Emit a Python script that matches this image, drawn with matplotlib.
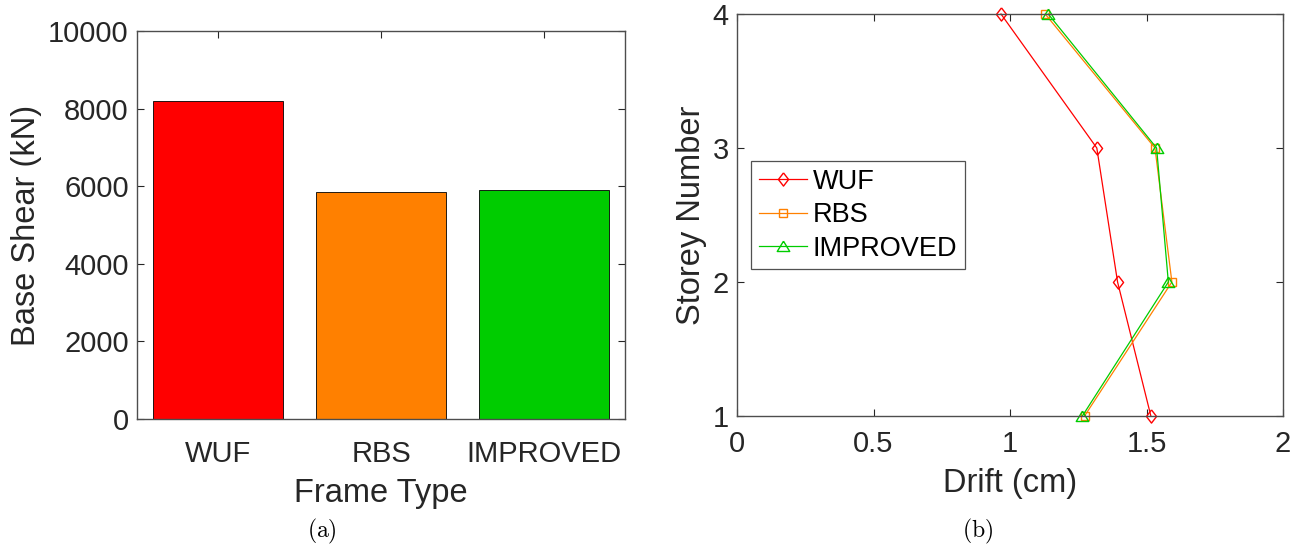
import matplotlib
matplotlib.use("Agg")
import matplotlib.pyplot as plt

plt.rcParams['font.family'] = ['Liberation Sans', 'DejaVu Sans']
plt.rcParams['mathtext.fontset'] = 'cm'

# Base shear per frame type
frame_types = ['WUF', 'RBS', 'IMPROVED']
base_shear = [8200, 5860, 5900]
bar_colors = ['#FF0000', '#FF8000', '#00CC00']

# Storey drift profiles
storeys = [1, 2, 3, 4]
drift_wuf = [1.516, 1.394, 1.318, 0.967]
drift_rbs = [1.273, 1.593, 1.531, 1.129]
drift_improved = [1.265, 1.580, 1.537, 1.140]

y_ticks_shear = [0, 2000, 4000, 6000, 8000, 10000]
x_ticks_drift = [0, 0.5, 1, 1.5, 2]
x_tick_labels_drift = ['0', '0.5', '1', '1.5', '2']

W, H = 1302, 551
fig = plt.figure(figsize=(W / 100, H / 100), dpi=100)

def box(l, t, r, b):
    return [l / W, 1 - b / H, (r - l) / W, (b - t) / H]

axis_col = '#262626'
tick_fs = 21
label_fs = 23.5

def style(ax):
    for s in ax.spines.values():
        s.set_color('#4d4d4d')
        s.set_linewidth(1.0)
    ax.tick_params(direction='in', length=5, width=0.8, color=axis_col,
                   labelsize=tick_fs, labelcolor=axis_col,
                   top=True, right=True, pad=6)

# (a) base shear bars
ax1 = fig.add_axes(box(137, 31, 625, 419))
pos = list(range(1, len(frame_types) + 1))
ax1.bar(pos, base_shear, width=0.8, color=bar_colors,
        edgecolor='black', linewidth=0.6, zorder=2)
ax1.set_xlim(0.5, 3.5)
ax1.set_ylim(0, 10000)
ax1.set_xticks(pos)
ax1.set_xticklabels(frame_types)
ax1.set_yticks(y_ticks_shear)
style(ax1)
ax1.tick_params(axis='x', pad=15)
ax1.set_xlabel('Frame Type', fontsize=label_fs, color=axis_col, labelpad=7)
ax1.set_ylabel('Base Shear (kN)', fontsize=label_fs, color=axis_col, labelpad=4)

# (b) drift profiles
ax2 = fig.add_axes(box(737, 14, 1283, 416))
diamond = [(0, 1), (0.77, 0), (0, -1), (-0.77, 0), (0, 1)]
triangle = [(0, 0.85), (1, -0.8), (-1, -0.8), (0, 0.85)]
ax2.plot(drift_wuf, storeys, color='#FF0000', lw=0.9, marker=diamond,
         ms=9.5, mfc='none', mec='#FF0000', mew=1.0, label='WUF')
ax2.plot(drift_rbs, storeys, color='#FF8000', lw=0.9, marker='s',
         ms=5.5, mfc='none', mec='#FF8000', mew=1.0, label='RBS')
ax2.plot(drift_improved, storeys, color='#00CC00', lw=0.9, marker=triangle,
         ms=9, mfc='none', mec='#00CC00', mew=1.0, label='IMPROVED')
ax2.set_xlim(0, 2)
ax2.set_ylim(1, 4)
ax2.set_xticks(x_ticks_drift)
ax2.set_xticklabels(x_tick_labels_drift)
ax2.set_yticks(storeys)
style(ax2)
for ln in ax2.lines:
    ln.set_clip_on(False)
ax2.tick_params(axis='x', pad=10)
ax2.set_xlabel('Drift (cm)', fontsize=label_fs, color=axis_col, labelpad=7)
ax2.set_ylabel('Storey Number', fontsize=label_fs, color=axis_col, labelpad=4)

leg = ax2.legend(loc='upper left', bbox_to_anchor=(751 / W, 1 - 161 / H),
                 bbox_transform=fig.transFigure, fontsize=19.5, frameon=True,
                 fancybox=False, borderaxespad=0, handlelength=1.8,
                 handletextpad=0.2, labelspacing=0.28, borderpad=0.28)
leg.get_frame().set_edgecolor('#262626')
leg.get_frame().set_linewidth(0.9)
for t in leg.get_texts():
    t.set_color('black')

# Sub-figure captions
fig.text(322 / W, 1 - 531 / H, r'$\mathrm{(a)}$', ha='center', va='center', fontsize=17)
fig.text(978 / W, 1 - 531 / H, r'$\mathrm{(b)}$', ha='center', va='center', fontsize=17)

fig.savefig('out.png', dpi=100, facecolor='white')
